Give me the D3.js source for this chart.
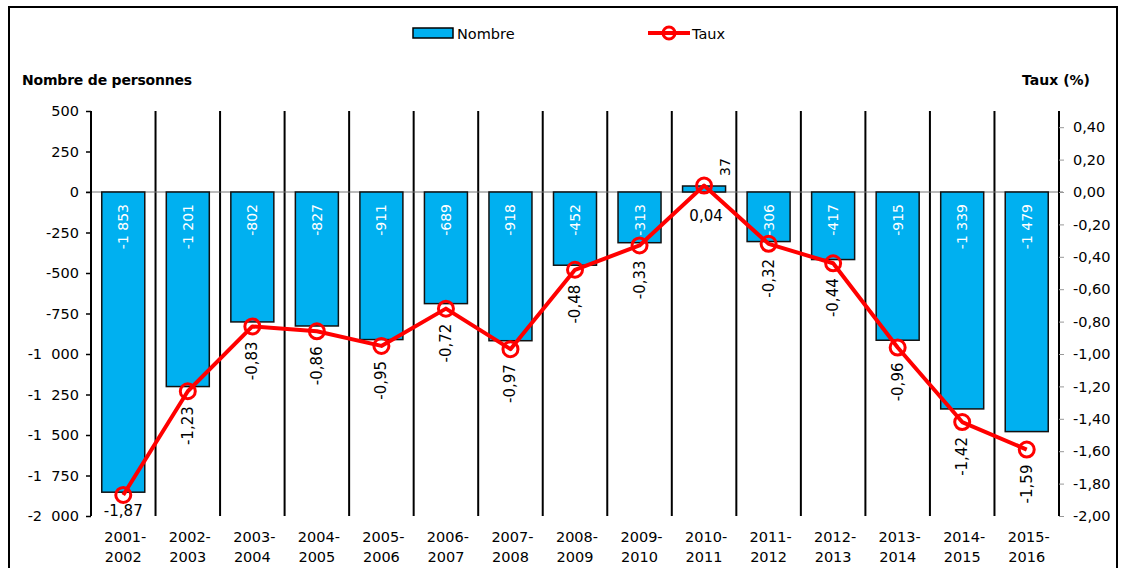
<!DOCTYPE html>
<html><head><meta charset="utf-8">
<script src="https://cdn.jsdelivr.net/npm/d3@7"></script>
<style>body{margin:0;background:#fff}svg{display:block}</style>
</head><body>
<svg id="c" width="1125" height="568"></svg>
<script>
const categories = ["2001-2002","2002-2003","2003-2004","2004-2005","2005-2006","2006-2007","2007-2008","2008-2009","2009-2010","2010-2011","2011-2012","2012-2013","2013-2014","2014-2015","2015-2016"];
const nombre = [-1853,-1201,-802,-827,-911,-689,-918,-452,-313,37,-306,-417,-915,-1339,-1479];
const taux = [-1.87,-1.23,-0.83,-0.86,-0.95,-0.72,-0.97,-0.48,-0.33,0.04,-0.32,-0.44,-0.96,-1.42,-1.59];
const leftTicks = [500,250,0,-250,-500,-750,-1000,-1250,-1500,-1750,-2000];
const rightTicks = [0.4,0.2,0,-0.2,-0.4,-0.6,-0.8,-1.0,-1.2,-1.4,-1.6,-1.8,-2.0];

const loc = d3.formatLocale({decimal:",", thousands:"\u00a0", grouping:[3], currency:["",""], minus:"-"});
const locT = d3.formatLocale({decimal:",", thousands:"\u2007", grouping:[3], currency:["",""], minus:"-"});
const fInt = loc.format(",d");
const fTick = locT.format(",d");
const f2 = loc.format(".2f");

const svg = d3.select("#c");
const FONT = "'DejaVu Sans', sans-serif";
const L = 91, R = 1059, T = 111, B = 516;

svg.append("rect").attr("x",9).attr("y",7).attr("width",1108).attr("height",580)
  .attr("fill","none").attr("stroke","#000").attr("stroke-width",2);

const x = d3.scaleBand().domain(categories).range([L,R]).paddingInner(0).paddingOuter(0);
const yL = d3.scaleLinear().domain([-2000,500]).range([B,T]);
const yR = d3.scaleLinear().domain([-2.0,0.5]).range([B,T]);

const g = svg.append("g").attr("font-family",FONT);

// separators
g.selectAll("line.sep").data(categories.slice(1)).enter().append("line")
  .attr("x1",d=>x(d)).attr("x2",d=>x(d)).attr("y1",T).attr("y2",B)
  .attr("stroke","#000").attr("stroke-width",2);

// zero line
g.append("line").attr("x1",L-5).attr("x2",R+4).attr("y1",yL(0)).attr("y2",yL(0))
  .attr("stroke","#777").attr("stroke-width",1);

// bars
const bw = 43;
g.selectAll("rect.bar").data(nombre).enter().append("rect")
  .attr("x",(d,i)=>x(categories[i])+x.bandwidth()/2-bw/2)
  .attr("width",bw)
  .attr("y",d=>yL(Math.max(0,d)))
  .attr("height",d=>Math.abs(yL(d)-yL(0)))
  .attr("fill","#00B0F0").attr("stroke","#111").attr("stroke-width",1.5);

// bar labels
nombre.forEach((d,i)=>{
  const cx = x(categories[i])+x.bandwidth()/2;
  if(d<0){
    g.append("text").attr("transform",`translate(${cx+5},${yL(0)+12}) rotate(-90)`)
      .attr("text-anchor","end").attr("fill","#fff").attr("font-size",14).text(fInt(d));
  } else {
    g.append("text").attr("transform",`translate(${cx+26},${yL(d)-10}) rotate(-90)`)
      .attr("text-anchor","start").attr("fill","#000").attr("font-size",14).text(fInt(d));
  }
});

// axes
const axL = d3.axisLeft(yL).tickValues(leftTicks).tickSize(5).tickFormat(fTick);
const gl = g.append("g").attr("transform",`translate(${L},0)`).call(axL);
gl.select(".domain").attr("stroke","#000").attr("stroke-width",2).attr("d",`M0,${T}V${B}`);
gl.selectAll(".tick line").attr("stroke","#000").attr("stroke-width",1.5);
gl.selectAll(".tick text").attr("font-family",FONT).attr("font-size",14.5).attr("fill","#000").attr("x",-12);

const axR = d3.axisRight(yR).tickValues(rightTicks).tickSize(5).tickFormat(f2);
const gr = g.append("g").attr("transform",`translate(${R},0)`).call(axR);
gr.select(".domain").attr("stroke","#000").attr("stroke-width",2).attr("d",`M0,${T}V${B}`);
gr.selectAll(".tick line").attr("stroke","#999").attr("stroke-width",1);
gr.selectAll(".tick text").attr("font-family",FONT).attr("font-size",14.5).attr("fill","#000").attr("x",14);

// x labels
categories.forEach((c,i)=>{
  const cx = x(c)+x.bandwidth()/2;
  const parts = c.split("-");
  g.append("text").attr("text-anchor","middle").attr("font-size",14.5).attr("x",cx+2).attr("y",542).text(parts[0]+"-");
  g.append("text").attr("text-anchor","middle").attr("font-size",14.5).attr("x",cx).attr("y",562).text(parts[1]);
});

// line
const line = d3.line().x((d,i)=>x(categories[i])+x.bandwidth()/2).y(d=>yR(d));
g.append("path").datum(taux).attr("d",line).attr("fill","none")
  .attr("stroke","#FF0000").attr("stroke-width",4).attr("stroke-linejoin","round");
g.selectAll("circle.pt").data(taux).enter().append("circle")
  .attr("cx",(d,i)=>x(categories[i])+x.bandwidth()/2).attr("cy",d=>yR(d)).attr("r",7.5)
  .attr("fill","none").attr("stroke","#FF0000").attr("stroke-width",3);

// line labels
taux.forEach((d,i)=>{
  const cx = x(categories[i])+x.bandwidth()/2;
  const cy = yR(d);
  if(i===0){
    g.append("text").attr("x",cx).attr("y",cy+21).attr("text-anchor","middle").attr("font-size",15).text(f2(d));
  } else if(d>0){
    g.append("text").attr("x",cx+2).attr("y",cy+35).attr("text-anchor","middle").attr("font-size",15).text(f2(d));
  } else {
    g.append("text").attr("transform",`translate(${cx+5},${cy+15}) rotate(-90)`)
      .attr("text-anchor","end").attr("font-size",15).text(f2(d));
  }
});

// axis titles
g.append("text").attr("x",22).attr("y",85).attr("font-size",14).attr("font-weight",700).attr("letter-spacing",-0.2).text("Nombre de personnes");
g.append("text").attr("x",1090).attr("y",85).attr("text-anchor","end").attr("font-size",14).attr("font-weight",700).text("Taux  (%)");

// legend
g.append("rect").attr("x",413).attr("y",28).attr("width",40).attr("height",10)
  .attr("fill","#00B0F0").attr("stroke","#000").attr("stroke-width",1.5);
g.append("text").attr("x",457).attr("y",39).attr("font-size",14.5).text("Nombre");
g.append("line").attr("x1",648).attr("x2",690).attr("y1",33).attr("y2",33).attr("stroke","#FF0000").attr("stroke-width",4);
g.append("circle").attr("cx",669).attr("cy",33).attr("r",6).attr("fill","none").attr("stroke","#FF0000").attr("stroke-width",3);
g.append("text").attr("x",692).attr("y",39).attr("font-size",14.5).text("Taux");
</script>
</body></html>
